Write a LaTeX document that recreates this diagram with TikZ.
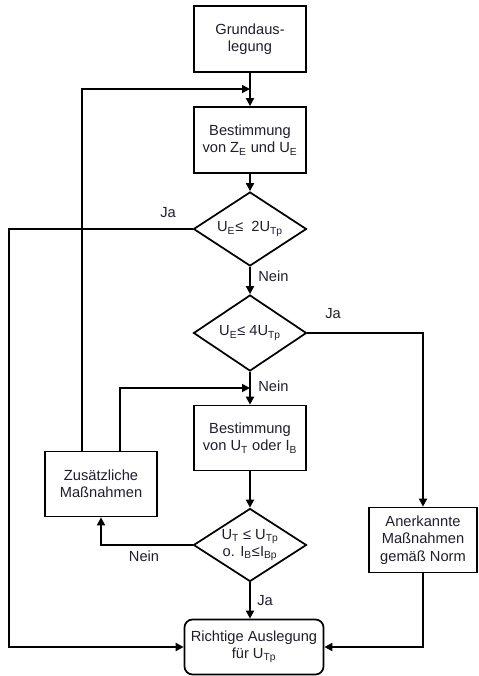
\documentclass[tikz,border=0pt]{standalone}
\usepackage{fontspec}
\setmainfont{Liberation Sans}
\usetikzlibrary{shapes.geometric}
\usetikzlibrary{arrows.meta}
\usepackage{xcolor}
\definecolor{ColText}{RGB}{30,30,45}
\tikzstyle{BoxFlow}=[rectangle,draw=black,line width=1.3pt,align=center,inner sep=1pt,
minimum width=84pt,minimum height=49.5pt,text=ColText,font=\fontsize{11}{12.9}\selectfont]
\tikzstyle{DiamondFlow}=[diamond,draw=black,line width=1.3pt,align=center,inner sep=0pt,
aspect=1.5,minimum width=84.75pt,minimum height=55.5pt,text=ColText,font=\fontsize{11}{12.9}\selectfont]
\tikzstyle{ArrowFlow}=[line width=1.3pt,-{Triangle[length=6pt,width=6pt]}]
\tikzstyle{LabelFlow}=[text=ColText,inner sep=0pt,font=\fontsize{11}{12.9}\selectfont]

\begin{document}
\begin{tikzpicture}[x=0.75pt,y=-0.75pt]
        \useasboundingbox (0,0) rectangle (479,676);
        \node[BoxFlow](grund)at(250,39){Grundaus-\\legung};
        \node[BoxFlow](bestZE)at(250,140){Bestimmung\\von Z\textsubscript{E} und U\textsubscript{E}};
        \node[DiamondFlow](diaA)at(250,229){U\textsubscript{E}≤\ \ 2U\textsubscript{Tp}};
        \node[DiamondFlow,minimum height=57pt](diaB)at(250,333){U\textsubscript{E}≤ 4U\textsubscript{Tp}};
        \node[BoxFlow,minimum height=48.75pt](bestUT)at(250,438){Bestimmung\\von U\textsubscript{T} oder I\textsubscript{B}};
        \node[DiamondFlow,minimum height=54.75pt](diaC)at(250,545){U\textsubscript{T} ≤ U\textsubscript{Tp}\\o. I\textsubscript{B}≤I\textsubscript{Bp}};
        \node[BoxFlow,rounded corners=6pt,minimum width=104.25pt,minimum height=41.25pt](richtig)at(254,647){Richtige Auslegung\\für U\textsubscript{Tp}};
        \node[BoxFlow,minimum height=48.75pt](zusatz)at(101,484){Zusätzliche\\Maßnahmen};
        \node[BoxFlow,minimum width=81pt,minimum height=48.75pt](anerk)at(423,540){Anerkannte\\Maßnahmen\\gemäß Norm};
        \coordinate(fbA)at(250,89);
        \coordinate(fbB)at(250,388);
        \coordinate(leftA)at(9,229);
        % main path
        \draw[ArrowFlow](grund)--(bestZE);
        \draw[ArrowFlow](bestZE)--(diaA);
        \draw[ArrowFlow](diaA)--(diaB);
        \draw[ArrowFlow](diaB)--(bestUT);
        \draw[ArrowFlow](bestUT)--(diaC);
        \draw[ArrowFlow](diaC.south)--(diaC.south|-richtig.north);
        % side paths
        \draw[ArrowFlow](diaA.west)--(leftA)|-(richtig.west);
        \draw[ArrowFlow](diaB.east)-|(anerk.north);
        \draw[ArrowFlow](anerk.south)|-(richtig.east);
        \draw[ArrowFlow](diaC.west)-|(zusatz.south);
        \draw[ArrowFlow]([xshift=-14.25pt]zusatz.north)|-(fbA);
        \draw[ArrowFlow]([xshift=14.25pt]zusatz.north)|-(fbB);
        % labels
        \node[LabelFlow](jaA)at(168,213){Ja};
        \node[LabelFlow,anchor=west](neinA)at(258,276){Nein};
        \node[LabelFlow](jaB)at(333,314){Ja};
        \node[LabelFlow,anchor=west](neinB)at(258,386){Nein};
        \node[LabelFlow](neinC)at(144,556){Nein};
        \node[LabelFlow,anchor=west](jaC)at(257,601){Ja};
    \end{tikzpicture}
\end{document}
